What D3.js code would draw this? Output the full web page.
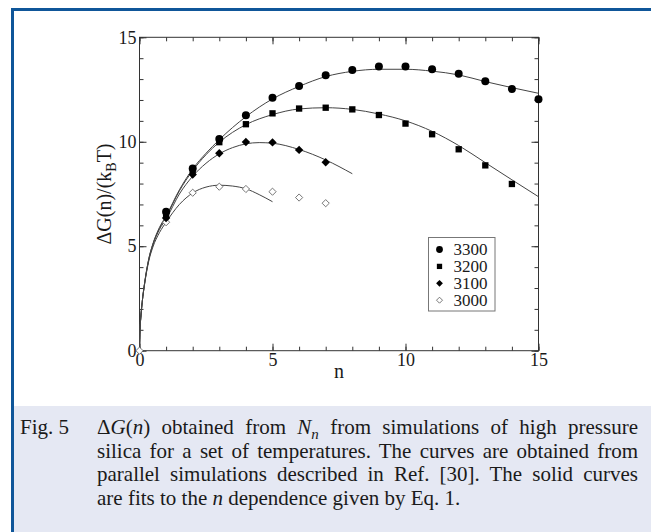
<!DOCTYPE html>
<html>
<head>
<meta charset="utf-8">
<script src="https://cdn.jsdelivr.net/npm/d3@7"></script>
<style>
  body { margin: 0; background: #fff; }
  svg { display: block; }
  text { font-family: "Liberation Serif", "Times New Roman", serif; fill: #1a1a1a; }
</style>
</head>
<body>
<script>
// legend / series names
const temps = ['3300', '3200', '3100', '3000'];

// simulation points
const n3300 = [1, 2, 3, 4, 5, 6, 7, 8, 9, 10, 11, 12, 13, 14, 15];
const g3300 = [6.65, 8.72, 10.13, 11.27, 12.11, 12.67, 13.18, 13.44, 13.6, 13.6, 13.47, 13.25, 12.9, 12.53, 12.03];
const n3200 = [1, 2, 3, 4, 5, 6, 7, 8, 9, 10, 11, 12, 13, 14];
const g3200 = [6.5, 8.65, 9.98, 10.84, 11.36, 11.59, 11.63, 11.55, 11.28, 10.87, 10.36, 9.64, 8.87, 7.98];
const n3100 = [1, 2, 3, 4, 5, 6, 7];
const g3100 = [6.35, 8.43, 9.45, 9.99, 9.97, 9.61, 9.02];
const n3000 = [0, 1, 2, 3, 4, 5, 6, 7];
const g3000 = [0, 6.15, 7.56, 7.85, 7.74, 7.61, 7.33, 7.06];

// fitted curves
const fitN3300 = [0, 0.02, 0.05, 0.1, 0.2, 0.35, 0.5, 0.75, 1, 1.5, 2, 2.5, 3, 4, 5, 6, 7, 8, 9, 10, 11, 12, 13, 14, 15];
const fit3300 = [0, 1.0, 1.6, 2.3, 3.3, 4.4, 5.1, 5.9, 6.45, 7.7, 8.7, 9.45, 10.1, 11.2, 12.05, 12.65, 13.12, 13.37, 13.47, 13.47, 13.38, 13.2, 12.88, 12.59, 12.32];
const fitN3200 = fitN3300;
const fit3200 = [0, 1.0, 1.6, 2.3, 3.3, 4.4, 5.08, 5.85, 6.4, 7.65, 8.62, 9.38, 9.98, 10.82, 11.3, 11.57, 11.63, 11.55, 11.33, 11.0, 10.5, 9.82, 9.0, 8.18, 7.37];
const fitN3100 = [0, 0.02, 0.05, 0.1, 0.2, 0.35, 0.5, 0.75, 1, 1.5, 2, 2.5, 3, 3.5, 4, 4.5, 5, 6, 7, 8];
const fit3100 = [0, 1.0, 1.6, 2.3, 3.3, 4.35, 5.05, 5.8, 6.3, 7.5, 8.35, 8.97, 9.42, 9.72, 9.9, 9.96, 9.93, 9.63, 9.13, 8.47];
const fitN3000 = [0, 0.02, 0.05, 0.1, 0.2, 0.35, 0.5, 0.75, 1, 1.5, 2, 2.5, 3, 3.5, 4, 4.5, 5];
const fit3000 = [0, 1.0, 1.6, 2.3, 3.25, 4.3, 4.95, 5.65, 6.15, 7.0, 7.55, 7.83, 7.92, 7.88, 7.75, 7.47, 7.13];

const majorTicks = [0, 5, 10, 15];
const minorTicks = d3.range(0, 16);

const width = 651;
const height = 532;

const svg = d3.select('body')
  .append('svg')
  .attr('width', width)
  .attr('height', height);

// page frame + caption box
svg.append('rect')
  .attr('x', 14).attr('y', 406)
  .attr('width', width - 14).attr('height', height - 406)
  .attr('fill', '#e5e8f3');
svg.append('rect')
  .attr('x', 11).attr('y', 8)
  .attr('width', width - 11).attr('height', 3)
  .attr('fill', '#0f5699');
svg.append('rect')
  .attr('x', 11).attr('y', 8)
  .attr('width', 3).attr('height', height - 8)
  .attr('fill', '#0f5699');

const x = d3.scaleLinear().domain([0, 15]).range([139.5, 538.5]);
const y = d3.scaleLinear().domain([0, 15]).range([350.7, 37.3]);

const axisColor = '#333';

function styleAxis(g) {
  g.select('.domain').remove();
  g.selectAll('line').attr('stroke', axisColor);
  g.selectAll('text')
    .style('font-family', '"Liberation Serif", "Times New Roman", serif')
    .style('font-size', '18px')
    .attr('fill', '#1a1a1a');
}

// bottom
svg.append('g')
  .attr('transform', `translate(0,${y(0)})`)
  .call(d3.axisBottom(x).tickValues(minorTicks).tickSize(-4).tickFormat(''))
  .call(styleAxis);
svg.append('g')
  .attr('transform', `translate(0,${y(0)})`)
  .call(d3.axisBottom(x).tickValues(majorTicks).tickSize(-7).tickPadding(3).tickFormat(d3.format('d')))
  .call(styleAxis);
// top
svg.append('g')
  .attr('transform', `translate(0,${y(15)})`)
  .call(d3.axisTop(x).tickValues(minorTicks).tickSize(-4).tickFormat(''))
  .call(styleAxis);
svg.append('g')
  .attr('transform', `translate(0,${y(15)})`)
  .call(d3.axisTop(x).tickValues(majorTicks).tickSize(-7).tickFormat(''))
  .call(styleAxis);
// left
svg.append('g')
  .attr('transform', `translate(${x(0)},0)`)
  .call(d3.axisLeft(y).tickValues(minorTicks).tickSize(-4).tickFormat(''))
  .call(styleAxis);
svg.append('g')
  .attr('transform', `translate(${x(0)},0)`)
  .call(d3.axisLeft(y).tickValues(majorTicks).tickSize(-7).tickPadding(3).tickFormat(d3.format('d')))
  .call(styleAxis);
// right
svg.append('g')
  .attr('transform', `translate(${x(15)},0)`)
  .call(d3.axisRight(y).tickValues(minorTicks).tickSize(-4).tickFormat(''))
  .call(styleAxis);
svg.append('g')
  .attr('transform', `translate(${x(15)},0)`)
  .call(d3.axisRight(y).tickValues(majorTicks).tickSize(-7).tickFormat(''))
  .call(styleAxis);

svg.append('rect')
  .attr('x', x(0)).attr('y', y(15))
  .attr('width', x(15) - x(0)).attr('height', y(0) - y(15))
  .attr('fill', 'none')
  .attr('stroke', axisColor)
  .attr('stroke-width', 1);

// axis titles
svg.append('text')
  .attr('x', (x(0) + x(15)) / 2)
  .attr('y', 378)
  .attr('text-anchor', 'middle')
  .style('font-size', '20px')
  .text('n');

const yTitle = svg.append('text')
  .attr('transform', 'translate(111,194) rotate(-90)')
  .attr('text-anchor', 'middle')
  .style('font-size', '20px');
yTitle.append('tspan').text('ΔG(n)/(k');
yTitle.append('tspan').attr('dy', 5).style('font-size', '14px').text('B');
yTitle.append('tspan').attr('dy', -5).text('T)');

// fitted curves
const fits = [
  [fitN3300, fit3300],
  [fitN3200, fit3200],
  [fitN3100, fit3100],
  [fitN3000, fit3000]
];

const line = d3.line()
  .x((d) => x(d[0]))
  .y((d) => y(d[1]))
  .curve(d3.curveMonotoneX);

svg.append('g')
  .selectAll('path')
  .data(fits)
  .enter()
  .append('path')
  .attr('d', (d) => line(d3.zip(d[0], d[1])))
  .attr('fill', 'none')
  .attr('stroke', '#444')
  .attr('stroke-width', 1);

// markers
function diamond(r) {
  return `M0,${-r}L${r},0L0,${r}L${-r},0Z`;
}

const markers = [
  { name: temps[0], ns: n3300, gs: g3300, path: d3.symbol(d3.symbolCircle, 50)(), fill: '#000', stroke: 'none' },
  { name: temps[1], ns: n3200, gs: g3200, path: d3.symbol(d3.symbolSquare, 40)(), fill: '#000', stroke: 'none' },
  { name: temps[2], ns: n3100, gs: g3100, path: diamond(4.2), fill: '#000', stroke: 'none' },
  { name: temps[3], ns: n3000, gs: g3000, path: diamond(3.6), fill: '#fff', stroke: '#555' }
];

markers.slice().reverse().forEach((m) => {
  svg.append('g')
    .selectAll('path')
    .data(d3.zip(m.ns, m.gs))
    .enter()
    .append('path')
    .attr('transform', (d) => `translate(${x(d[0])},${y(d[1])})`)
    .attr('d', m.path)
    .attr('fill', m.fill)
    .attr('stroke', m.stroke)
    .attr('stroke-width', 0.8);
});

// legend
const legend = svg.append('g');
legend.append('rect')
  .attr('x', 428.5).attr('y', 237.5)
  .attr('width', 66.5).attr('height', 73.5)
  .attr('fill', '#fff')
  .attr('stroke', '#777')
  .attr('stroke-width', 1);

const legendSymbols = [
  d3.symbol(d3.symbolCircle, 36)(),
  d3.symbol(d3.symbolSquare, 28)(),
  diamond(3.4),
  diamond(3)
];

const rows = legend.selectAll('g.row')
  .data(markers)
  .enter()
  .append('g')
  .attr('transform', (d, i) => `translate(0,${249.5 + i * 16.9})`);

rows.append('path')
  .attr('transform', 'translate(439.5,0)')
  .attr('d', (d, i) => legendSymbols[i])
  .attr('fill', (d) => d.fill)
  .attr('stroke', (d) => d.stroke)
  .attr('stroke-width', 0.8);

rows.append('text')
  .attr('x', 453.5)
  .attr('dy', '0.33em')
  .style('font-size', '17px')
  .text((d) => d.name);

// caption
const capLeft = 97;
const capRight = 638;
const cap = svg.append('g').style('font-size', '21px');

cap.append('text').attr('x', 20).attr('y', 434).text('Fig. 5');

const l1 = cap.append('text').attr('x', capLeft).attr('y', 434);
l1.append('tspan').text('Δ');
l1.append('tspan').style('font-style', 'italic').text('G');
l1.append('tspan').text('(');
l1.append('tspan').style('font-style', 'italic').text('n');
l1.append('tspan').text(') obtained from ');
l1.append('tspan').style('font-style', 'italic').text('N');
l1.append('tspan').style('font-style', 'italic').style('font-size', '15px').attr('dy', 5).text('n');
l1.append('tspan').attr('dy', -5).text(' from simulations of high pressure');

const l2 = cap.append('text')
  .attr('x', capLeft).attr('y', 457.5)
  .text('silica for a set of temperatures. The curves are obtained from');

const l3 = cap.append('text')
  .attr('x', capLeft).attr('y', 481)
  .text('parallel simulations described in Ref. [30]. The solid curves');

const l4 = cap.append('text')
  .attr('x', capLeft).attr('y', 504.5);
l4.append('tspan').text('are fits to the ');
l4.append('tspan').style('font-style', 'italic').text('n');
l4.append('tspan').text(' dependence given by Eq. 1.');

// justify lines 1-3 by stretching (or squeezing) the word gaps
[l1, l2, l3].forEach((t) => {
  const node = t.node();
  const natural = node.getComputedTextLength();
  const gaps = node.textContent.split(' ').length - 1;
  t.style('word-spacing', `${(capRight - capLeft - natural) / gaps}px`);
});
</script>
</body>
</html>
